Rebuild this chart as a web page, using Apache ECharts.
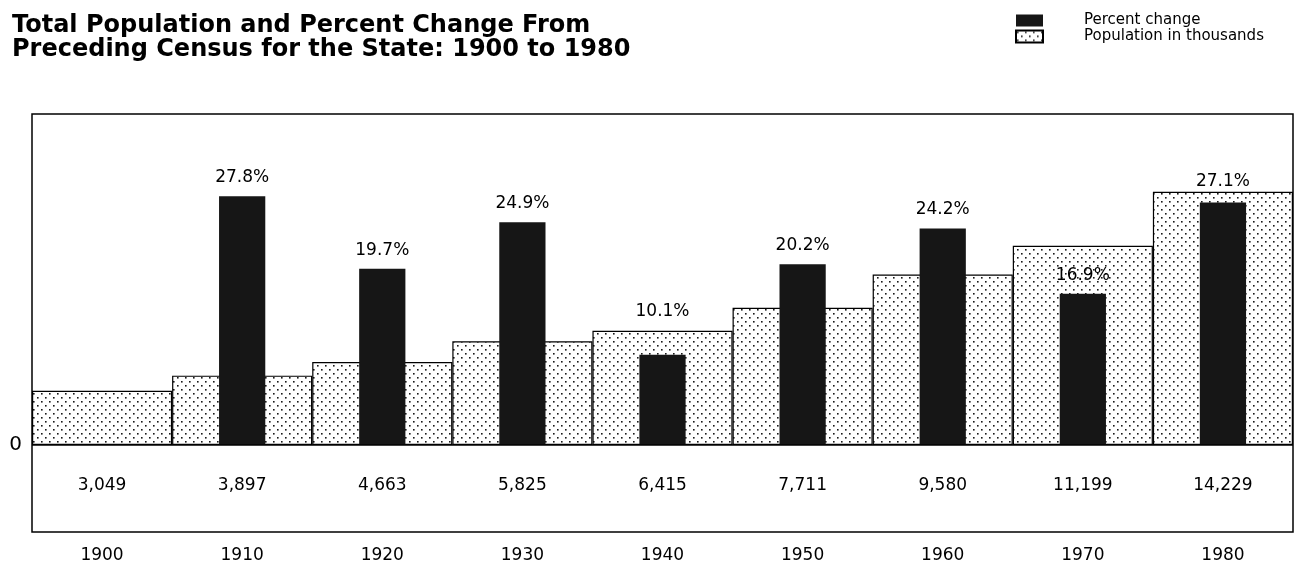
<!DOCTYPE html>
<html>
<head>
<meta charset="utf-8">
<script src="https://cdn.jsdelivr.net/npm/echarts@6/dist/echarts.min.js"></script>
<style>
html,body{margin:0;padding:0;background:#fff;}
#chart{width:1296px;height:574px;}
</style>
</head>
<body>
<div id="chart"></div>
<script>
const years = ['1900','1910','1920','1930','1940','1950','1960','1970','1980'];
const population = [3049, 3897, 4663, 5825, 6415, 7711, 9580, 11199, 14229];
const percentChange = [null, 27.8, 19.7, 24.9, 10.1, 20.2, 24.2, 16.9, 27.1];

// stipple pattern
const tile = document.createElement('canvas');
tile.width = 8; tile.height = 8;
const tctx = tile.getContext('2d');
tctx.fillStyle = '#ffffff';
tctx.fillRect(0,0,8,8);
tctx.fillStyle = '#1a1a1a';
tctx.fillRect(1,1,1.6,1.6);
tctx.fillRect(5,5,1.6,1.6);

// label distance tweaks where the label is pushed above the population bar
const labelDistance = {4: 35, 8: 12};

const font = '"DejaVu Sans", Verdana, sans-serif';

const chart = echarts.init(document.getElementById('chart'), null, {renderer:'canvas'});
chart.setOption({
  animation: false,
  backgroundColor: '#fff',
  title: {
    text: 'Total Population and Percent Change From\nPreceding Census for the State: 1900 to 1980',
    left: 7, top: 9,
    textStyle: {fontFamily: font, fontWeight: 'bold', fontSize: 24, lineHeight: 24, color: '#000'}
  },
  legend: {
    orient: 'vertical',
    left: 1010, top: 8,
    itemWidth: 27, itemHeight: 12, itemGap: 1,
    icon: 'rect',
    data: ['Percent change', 'Population in thousands'],
    textStyle: {fontFamily: font, fontSize: 15, color: '#000', padding: [0,0,0,36]}
  },
  grid: {
    left: 32, right: 3, top: 114, bottom: 42,
    show: true, borderColor: '#000', borderWidth: 1.5, backgroundColor: 'transparent'
  },
  xAxis: [
    {
      type: 'category', data: years, position: 'bottom',
      axisLine: {show: false, onZero: false}, axisTick: {show: false},
      axisLabel: {margin: 15, fontFamily: font, fontSize: 17, color: '#000'}
    },
    {
      type: 'category', data: years, position: 'bottom', offset: -87,
      axisLine: {show: false, onZero: false},
      axisTick: {show: false},
      axisLabel: {margin: 32, fontFamily: font, fontSize: 17, color: '#000',
        formatter: (v, i) => population[i].toLocaleString('en-US')}
    }
  ],
  yAxis: [
    {
      type: 'value', min: -9.72, max: 37, interval: 9.72,
      axisLine: {show: false}, axisTick: {show: false}, splitLine: {show: false},
      axisLabel: {margin: 10, fontFamily: font, fontSize: 20, color: '#000',
        formatter: v => Math.abs(v) < 1e-6 ? '0' : ''}
    },
    {
      type: 'value', min: -4890, max: 18600,
      axisLine: {show: false}, axisTick: {show: false}, splitLine: {show: false},
      axisLabel: {show: false}
    }
  ],
  series: [
    {
      name: 'Population in thousands', type: 'bar',
      xAxisIndex: 0, yAxisIndex: 1,
      barWidth: '100%', barCategoryGap: '0%',
      data: population,
      z: 2,
      itemStyle: {color: {image: tile, repeat: 'repeat'}, borderColor: '#000', borderWidth: 1.2}
    },
    {
      name: 'Percent change', type: 'bar',
      xAxisIndex: 1, yAxisIndex: 0,
      barWidth: '33%',
      z: 3,
      data: percentChange.map((v, i) => labelDistance[i] !== undefined
        ? {value: v, label: {distance: labelDistance[i]}} : v),
      itemStyle: {color: '#161616'},
      label: {show: true, position: 'top', distance: 10, fontFamily: font, fontSize: 17, color: '#000',
        formatter: p => p.value == null ? '' : p.value.toFixed(1) + '%'},
      markLine: {
        silent: true, symbol: 'none', animation: false,
        label: {show: false},
        lineStyle: {color: '#000', width: 1.5, type: 'solid'},
        data: [{yAxis: 0}]
      }
    }
  ]
});
</script>
</body>
</html>
